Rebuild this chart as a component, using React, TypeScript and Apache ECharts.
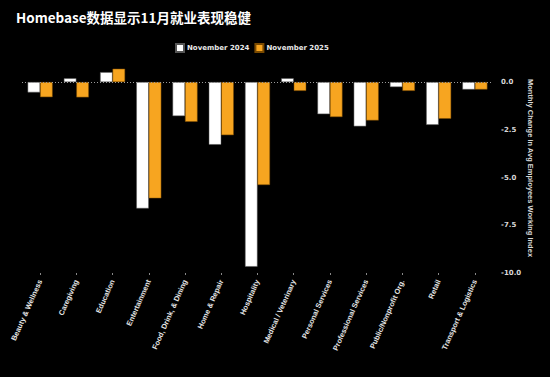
import React, { useEffect, useRef } from "react";
import * as echarts from "echarts";

const categories = [
  "Beauty & Wellness",
  "Caregiving",
  "Education",
  "Entertainment",
  "Food, Drink, & Dining",
  "Home & Repair",
  "Hospitality",
  "Medical / Veterinary",
  "Personal Services",
  "Professional Services",
  "Public/Nonprofit Org.",
  "Retail",
  "Transport & Logistics",
];
const nov2024 = [-0.54, 0.2, 0.52, -6.62, -1.78, -3.28, -9.67, 0.2, -1.68, -2.32, -0.26, -2.24, -0.39];
const nov2025 = [-0.79, -0.8, 0.7, -6.09, -2.08, -2.78, -5.39, -0.46, -1.83, -2.01, -0.46, -1.92, -0.39];
const seriesNames = ["November 2024", "November 2025"];
const yTicks = [0, -2.5, -5, -7.5, -10];

export default function App() {
  const ref = useRef<HTMLDivElement>(null);
  useEffect(() => {
    if (!ref.current) return;
    const chart = echarts.init(ref.current, null, { renderer: "svg" });
    const font = "'Liberation Sans', Arial, sans-serif";
    chart.setOption({
      animation: false,
      backgroundColor: "#000000",
      title: {
        text: "Homebase数据显示11月就业表现稳健",
        left: 11,
        top: 5,
        textStyle: {
          color: "#ffffff",
          fontSize: 13.5,
          fontWeight: "bold",
          fontFamily: "'Noto Sans CJK SC', 'Liberation Sans', sans-serif",
        },
      },
      legend: {
        data: seriesNames,
        top: 38,
        left: 170,
        itemWidth: 8,
        itemHeight: 8,
        itemGap: 5,
        icon: "rect",
        textStyle: { color: "#e8e8e8", fontSize: 7, fontWeight: "bold", fontFamily: "'DejaVu Sans', sans-serif", padding: [0, 0, 0, -2] },
      },
      grid: { left: 22, right: 57, top: 63, bottom: 104 },
      xAxis: {
        type: "category",
        data: categories,
        axisLine: { show: false, onZero: false },
        axisTick: { show: true, alignWithLabel: true, length: 2, lineStyle: { color: "#888" } },
        axisLabel: {
          rotate: 66,
          color: "#e6e6e6",
          fontSize: 7.4,
          fontWeight: "bold",
          fontFamily: font,
          margin: 7,
          interval: 0,
        },
      },
      yAxis: {
        type: "value",
        position: "right",
        min: -10,
        max: 1,
        interval: 2.5,
        splitLine: { show: false },
        axisLine: { show: false },
        axisTick: { show: false },
        axisLabel: {
          color: "#d8d8d8",
          fontSize: 7,
          fontWeight: "bold",
          fontFamily: "'DejaVu Sans', sans-serif",
          margin: 8,
          formatter: (v: number) => (yTicks.indexOf(v) >= 0 ? v.toFixed(1) : ""),
        },
        name: "Monthly Change in Avg Employees Working Index",
        nameLocation: "middle",
        nameRotate: -90,
        nameGap: 33,
        nameMoveOverlap: false,
        nameTextStyle: { color: "#d8d8d8", fontSize: 7.5, fontWeight: "bold", fontFamily: font },
      },
      series: [
        {
          name: seriesNames[0],
          type: "bar",
          data: nov2024,
          barGap: "0%",
          barCategoryGap: "31%",
          itemStyle: { color: "#ffffff", borderColor: "#555", borderWidth: 0.5 },
          markLine: {
            silent: true,
            symbol: "none",
            label: { show: false },
            lineStyle: { color: "#9a9a9a", type: [1, 2], width: 1 },
            data: [{ yAxis: 0 }],
          },
        },
        {
          name: seriesNames[1],
          type: "bar",
          data: nov2025,
          itemStyle: { color: "#f7a520", borderColor: "#7a4a00", borderWidth: 0.5 },
        },
      ],
    });
    return () => chart.dispose();
  }, []);
  return <div ref={ref} style={{ width: 550, height: 377, position: "absolute", left: 0, top: 0 }} />;
}
